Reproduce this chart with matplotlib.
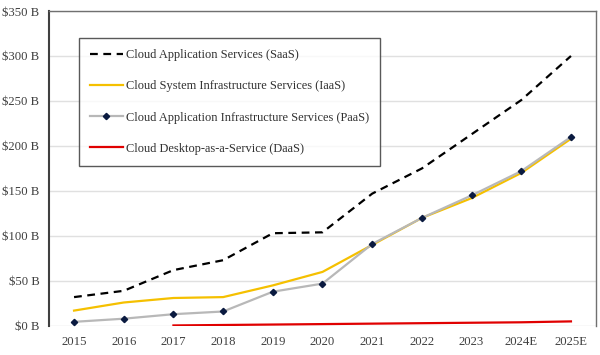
import matplotlib
matplotlib.use("Agg")
import matplotlib.pyplot as plt

years = ["2015", "2016", "2017", "2018", "2019", "2020", "2021", "2022", "2023", "2024E", "2025E"]
saas = [32, 39, 62, 73, 103, 104, 147, 175, 213, 251, 300]
iaas = [17, 26, 31, 32, 45, 60, 90, 120, 142, 170, 208]
paas = [4.5, 8, 13, 16, 38, 47, 91, 120, 145, 172, 210]
daas_years = ["2017", "2018", "2019", "2020", "2021", "2022", "2023", "2024E", "2025E"]
daas = [0.5, 1, 1.5, 2, 2.5, 3, 3.5, 4, 5]
yticks = [0, 50, 100, 150, 200, 250, 300, 350]

plt.rcParams['font.family'] = ['Liberation Serif', 'DejaVu Serif']

fig = plt.figure(figsize=(6, 3.55), dpi=100)
ax = fig.add_axes([0.082, 0.082, 0.911, 0.887])

x = list(range(len(years)))
xd = [years.index(y) for y in daas_years]

ax.plot(x, saas, color='black', linestyle=(0, (3.5, 2.5)), lw=1.6, label='Cloud Application Services (SaaS)', zorder=3)
ax.plot(x, iaas, color='#f5c000', lw=1.6, label='Cloud System Infrastructure Services (IaaS)', zorder=3)
ax.plot(x, paas, color='#b8b8b8', lw=1.6, marker='D', markersize=3.2, markerfacecolor='#0a1a40',
        markeredgecolor='#0a1a40', label='Cloud Application Infrastructure Services (PaaS)', zorder=4)
ax.plot(xd, daas, color='#e00000', lw=1.6, label='Cloud Desktop-as-a-Service (DaaS)', zorder=3)

ax.set_xlim(-0.5, 10.5)
ax.set_ylim(0, 350)
ax.set_xticks(x)
ax.set_xticklabels(years, fontsize=9.2, color='#404040')
ax.set_yticks(yticks)
ax.set_yticklabels([f"${v} B" for v in yticks], fontsize=9.2, color='#404040')
ax.tick_params(length=0, pad=7)
ax.grid(axis='y', color='#e0e0e0', lw=1)
ax.set_axisbelow(True)
for s in ['top', 'right']:
    ax.spines[s].set_color('#707070')
    ax.spines[s].set_linewidth(1)
ax.spines['bottom'].set_visible(False)
ax.spines['left'].set_color('#404040')
ax.spines['left'].set_linewidth(1.5)

leg = ax.legend(loc='upper left', bbox_to_anchor=(0.055, 0.914), fontsize=8.9, frameon=True,
                fancybox=False, edgecolor='#303030', labelspacing=1.55, handlelength=2.6,
                borderpad=0.9, handletextpad=0.3, borderaxespad=0)
leg.get_frame().set_linewidth(1)
for t in leg.get_texts():
    t.set_color('#303030')

fig.savefig('out.png', dpi=100)
